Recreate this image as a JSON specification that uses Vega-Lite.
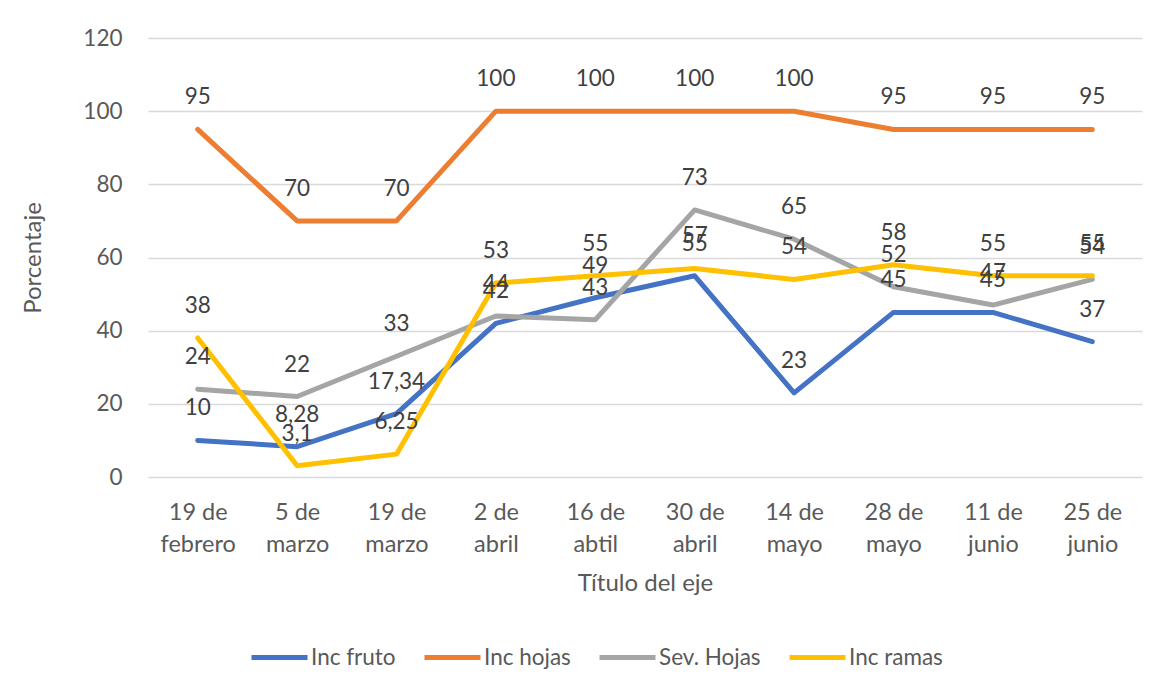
{
  "$schema": "https://vega.github.io/schema/vega-lite/v6.json",
  "width": 994,
  "height": 439,
  "autosize": "none",
  "padding": {"left": 148, "top": 38, "right": 22, "bottom": 213},
  "background": "white",
  "config": {
    "view": {"stroke": null},
    "font": "Lato",
    "locale": {"number": {"decimal": ",", "thousands": ".", "grouping": [3], "currency": ["", " €"]}}
  },
  "data": {
    "values": [
      {"fecha": "19 de febrero", "serie": "Inc fruto", "valor": 10},
      {"fecha": "5 de marzo", "serie": "Inc fruto", "valor": 8.28},
      {"fecha": "19 de marzo", "serie": "Inc fruto", "valor": 17.34},
      {"fecha": "2 de abril", "serie": "Inc fruto", "valor": 42},
      {"fecha": "16 de abtil", "serie": "Inc fruto", "valor": 49},
      {"fecha": "30 de abril", "serie": "Inc fruto", "valor": 55},
      {"fecha": "14 de mayo", "serie": "Inc fruto", "valor": 23},
      {"fecha": "28 de mayo", "serie": "Inc fruto", "valor": 45},
      {"fecha": "11 de junio", "serie": "Inc fruto", "valor": 45},
      {"fecha": "25 de junio", "serie": "Inc fruto", "valor": 37},
      {"fecha": "19 de febrero", "serie": "Inc hojas", "valor": 95},
      {"fecha": "5 de marzo", "serie": "Inc hojas", "valor": 70},
      {"fecha": "19 de marzo", "serie": "Inc hojas", "valor": 70},
      {"fecha": "2 de abril", "serie": "Inc hojas", "valor": 100},
      {"fecha": "16 de abtil", "serie": "Inc hojas", "valor": 100},
      {"fecha": "30 de abril", "serie": "Inc hojas", "valor": 100},
      {"fecha": "14 de mayo", "serie": "Inc hojas", "valor": 100},
      {"fecha": "28 de mayo", "serie": "Inc hojas", "valor": 95},
      {"fecha": "11 de junio", "serie": "Inc hojas", "valor": 95},
      {"fecha": "25 de junio", "serie": "Inc hojas", "valor": 95},
      {"fecha": "19 de febrero", "serie": "Sev. Hojas", "valor": 24},
      {"fecha": "5 de marzo", "serie": "Sev. Hojas", "valor": 22},
      {"fecha": "19 de marzo", "serie": "Sev. Hojas", "valor": 33},
      {"fecha": "2 de abril", "serie": "Sev. Hojas", "valor": 44},
      {"fecha": "16 de abtil", "serie": "Sev. Hojas", "valor": 43},
      {"fecha": "30 de abril", "serie": "Sev. Hojas", "valor": 73},
      {"fecha": "14 de mayo", "serie": "Sev. Hojas", "valor": 65},
      {"fecha": "28 de mayo", "serie": "Sev. Hojas", "valor": 52},
      {"fecha": "11 de junio", "serie": "Sev. Hojas", "valor": 47},
      {"fecha": "25 de junio", "serie": "Sev. Hojas", "valor": 54},
      {"fecha": "19 de febrero", "serie": "Inc ramas", "valor": 38},
      {"fecha": "5 de marzo", "serie": "Inc ramas", "valor": 3.1},
      {"fecha": "19 de marzo", "serie": "Inc ramas", "valor": 6.25},
      {"fecha": "2 de abril", "serie": "Inc ramas", "valor": 53},
      {"fecha": "16 de abtil", "serie": "Inc ramas", "valor": 55},
      {"fecha": "30 de abril", "serie": "Inc ramas", "valor": 57},
      {"fecha": "14 de mayo", "serie": "Inc ramas", "valor": 54},
      {"fecha": "28 de mayo", "serie": "Inc ramas", "valor": 58},
      {"fecha": "11 de junio", "serie": "Inc ramas", "valor": 55},
      {"fecha": "25 de junio", "serie": "Inc ramas", "valor": 55}
    ]
  },
  "encoding": {
    "x": {
      "field": "fecha",
      "type": "nominal",
      "sort": null,
      "scale": {"type": "point", "padding": 0.5},
      "axis": {
        "title": "Título del eje",
        "labelAngle": 0,
        "labelExpr": "[slice(datum.label, 0, indexof(datum.label, ' de ') + 3), slice(datum.label, indexof(datum.label, ' de ') + 4)]",
        "labelFontSize": 23.5,
        "labelColor": "#595959",
        "labelLineHeight": 32,
        "labelPadding": 23,
        "labelBaseline": "top",
        "ticks": false,
        "domain": false,
        "grid": false,
        "titleFontSize": 24,
        "titleFontWeight": "normal",
        "titleColor": "#595959",
        "titleY": 106,
        "titleBaseline": "middle"
      }
    },
    "y": {
      "field": "valor",
      "type": "quantitative",
      "scale": {"domain": [0, 120]},
      "axis": {
        "title": "Porcentaje",
        "values": [0, 20, 40, 60, 80, 100, 120],
        "labelFontSize": 22.5,
        "labelColor": "#595959",
        "labelPadding": 26,
        "ticks": false,
        "domain": false,
        "grid": true,
        "gridColor": "#D9D9D9",
        "gridWidth": 1.3,
        "titleFontSize": 24,
        "titleFontWeight": "normal",
        "titleColor": "#595959",
        "titleX": -115,
        "titleY": 219.5,
        "titleAngle": -90,
        "titleAlign": "center",
        "titleBaseline": "middle"
      }
    }
  },
  "layer": [
    {
      "mark": {"type": "line", "strokeWidth": 5, "strokeCap": "round", "strokeJoin": "round"},
      "encoding": {
        "color": {
          "field": "serie",
          "type": "nominal",
          "sort": ["Inc fruto", "Inc hojas", "Sev. Hojas", "Inc ramas"],
          "scale": {
            "domain": ["Inc fruto", "Inc hojas", "Sev. Hojas", "Inc ramas"],
            "range": ["#4472C4", "#ED7D31", "#A5A5A5", "#FFC000"]
          },
          "legend": {
            "title": null,
            "orient": "none",
            "direction": "horizontal",
            "legendX": 101,
            "legendY": 589,
            "symbolType": "stroke",
            "symbolSize": 3136,
            "symbolStrokeWidth": 5,
            "labelFontSize": 22.5,
            "labelColor": "#595959",
            "labelOffset": 1,
            "columnPadding": 18
          }
        }
      }
    },
    {
      "mark": {"type": "text", "dy": -32, "baseline": "middle", "fontSize": 22.5, "color": "#404040"},
      "encoding": {
        "text": {"field": "valor", "type": "quantitative", "format": ".4~r"}
      }
    }
  ]
}
